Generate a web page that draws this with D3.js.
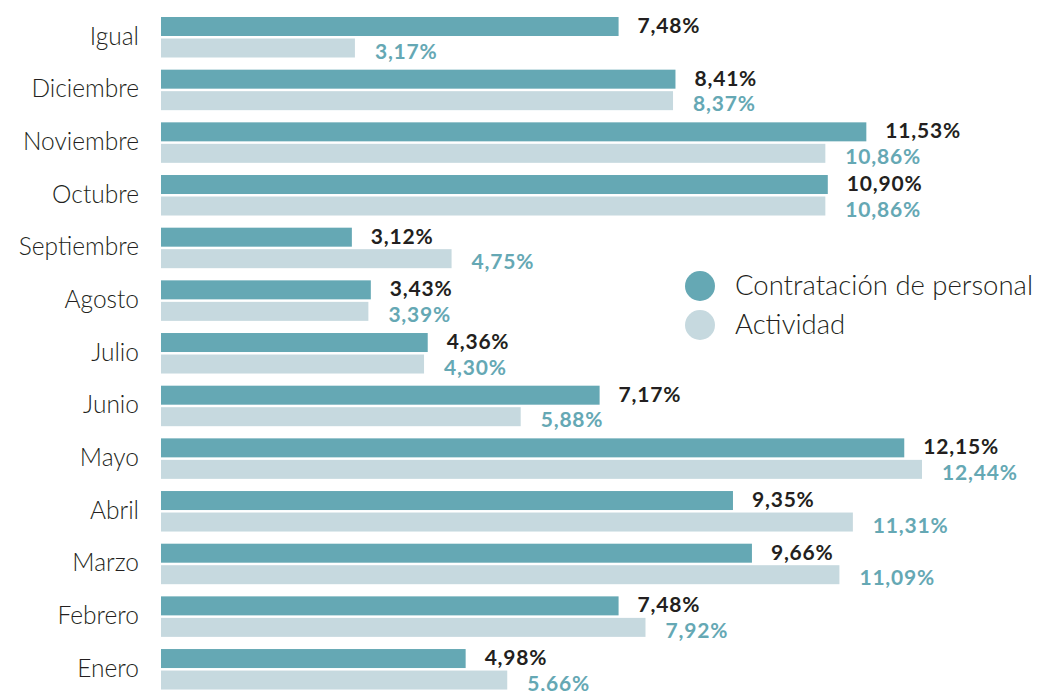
<!DOCTYPE html>
<html><head><meta charset="utf-8">
<script src="https://cdn.jsdelivr.net/npm/d3@7"></script>
<style>
body{margin:0;background:#fff;}
svg{display:block;font-family:Lato, "Noto Sans", sans-serif;}
</style></head>
<body>
<svg id="c" width="1045" height="691"></svg>
<script>
const categories = ["Igual","Diciembre","Noviembre","Octubre","Septiembre","Agosto","Julio","Junio","Mayo","Abril","Marzo","Febrero","Enero"];
const contratacion = [7.48,8.41,11.53,10.90,3.12,3.43,4.36,7.17,12.15,9.35,9.66,7.48,4.98];
const actividad = [3.17,8.37,10.86,10.86,4.75,3.39,4.30,5.88,12.44,11.31,11.09,7.92,5.66];
const seriesNames = ["Contratación de personal","Actividad"];

const colDark = "#65a8b4", colLight = "#c6d9df", textDark = "#231f20";
const svg = d3.select("#c");
const fmt = d3.formatLocale({decimal:",",thousands:".",grouping:[3],currency:["","€"]}).format(".2f");

const step = 52.67, bw = 40.5, p = 1 - bw/step;
const y0 = 17 - step*p/2;
const y = d3.scaleBand().domain(categories).range([y0, y0 + step*categories.length]).paddingInner(p).paddingOuter(p/2);
const barH = 19;
const x = d3.scaleLinear().domain([0, 12.44]).range([161, 922]);

const data = categories.map((c,i)=>({c, a: contratacion[i], b: actividad[i]}));

const g = svg.append("g");
g.selectAll("text.cat").data(data).join("text")
  .attr("class","cat")
  .attr("x",139).attr("y",d=>y(d.c)+bw/2)
  .attr("dy","0.3em")
  .attr("text-anchor","end")
  .attr("font-size",24.5).attr("font-weight",300).attr("fill",textDark)
  .text(d=>d.c);

g.selectAll("rect.a").data(data).join("rect")
  .attr("x",x(0)).attr("y",d=>y(d.c)).attr("width",d=>x(d.a)-x(0)).attr("height",barH).attr("fill",colDark);
g.selectAll("rect.b").data(data).join("rect")
  .attr("x",x(0)).attr("y",d=>y(d.c)+bw-barH).attr("width",d=>x(d.b)-x(0)).attr("height",barH).attr("fill",colLight);

g.selectAll("text.va").data(data).join("text")
  .attr("x",d=>x(d.a)+19).attr("y",d=>y(d.c)+barH-3)
  .attr("font-size",21).attr("font-weight",700).attr("letter-spacing",0.8).attr("fill",textDark)
  .text(d=>fmt(d.a)+"%");
g.selectAll("text.vb").data(data).join("text")
  .attr("x",d=>x(d.b)+20).attr("y",d=>y(d.c)+bw+1)
  .attr("font-size",21).attr("font-weight",700).attr("letter-spacing",0.8).attr("fill",colDark)
  .text(d=>fmt(d.b)+"%");

const lg = svg.append("g");
const legY = d3.scalePoint().domain(seriesNames).range([286, 325]);
const legC = d3.scaleOrdinal().domain(seriesNames).range([colDark, colLight]);
lg.selectAll("circle").data(seriesNames).join("circle")
  .attr("cx",700).attr("cy",d=>legY(d)).attr("r",15).attr("fill",d=>legC(d));
lg.selectAll("text").data(seriesNames).join("text")
  .attr("x",735).attr("y",d=>legY(d)).attr("dy","0.33em")
  .attr("font-size",27.5).attr("font-weight",300).attr("fill",textDark)
  .text(d=>d);
</script>
</body></html>
